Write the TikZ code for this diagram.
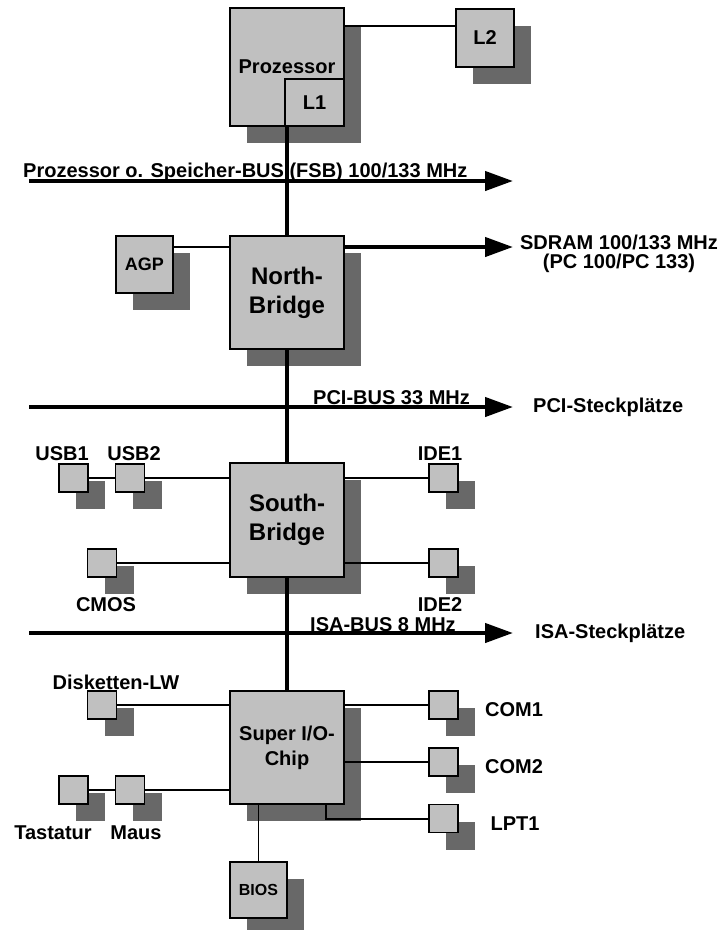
\documentclass[tikz,border=0pt]{standalone}
\usepackage{fontspec}
\setmainfont{Liberation Sans}
\definecolor{chipgray}{HTML}{C0C0C0}
\definecolor{shadegray}{HTML}{686868}
\usetikzlibrary{arrows.meta, positioning, shadows}

\begin{document}
\begin{tikzpicture}[
    x=1pt, y=-1pt,
    every node/.style={font=\fontsize{20}{19}\selectfont\bfseries, align=center},
    plain/.style={draw, fill=chipgray, line width=1.4pt, inner sep=0pt},
    chip/.style={plain, drop shadow={shadow xshift=17pt, shadow yshift=-17pt,
                 fill=shadegray, opacity=1}},
    bigchip/.style={chip, minimum width=114pt, minimum height=113pt,
                    font=\fontsize{24}{29}\selectfont\bfseries},
    port/.style={chip, minimum width=29pt, minimum height=28pt},
    wire/.style={line width=2pt},
    bus/.style={line width=4pt},
    busarrow/.style={line width=4.3pt, -{Triangle[length=28pt, width=19pt]}},
    buslabel/.style={anchor=base west, inner sep=0pt}
  ]
    \useasboundingbox (0,0) rectangle (720,930);

    % processor and caches
    \node[chip, minimum width=114pt, minimum height=118pt] (cpu) at (287,67) {Prozessor};
    \node[plain, minimum width=59pt, minimum height=47pt] (lone) at (314.5,102.5) {L1};
    \node[chip, minimum width=58pt, minimum height=58pt] (ltwo) at (485,38) {L2};
    \draw[wire] ([yshift=12pt]ltwo.west -| cpu.east) -- ([yshift=12pt]ltwo.west);

    % front side bus
    \coordinate (fsbl) at (29,181);
    \coordinate (fsbr) at (513,181);
    \draw[busarrow] (fsbl) -- (fsbr);
    \node[buslabel] (fsb) at (23,177) {Prozessor o. Speicher-BUS (FSB) 100/133 MHz};

    % north bridge
    \node[bigchip] (nb) at (287,292.5) {North-\\Bridge};
    \node[chip, minimum width=57pt, minimum height=57pt,
          font=\fontsize{18}{20}\selectfont\bfseries] (agp) at (144.5,264.5) {AGP};
    \coordinate (sdram) at (513,247);
    \draw[wire] (sdram -| agp.east) -- (sdram -| nb.west);
    \draw[busarrow] (sdram -| nb.east) -- (sdram);
    \node (sdramtxt) at (619,254) {SDRAM 100/133 MHz\\(PC 100/PC 133)};

    % PCI bus
    \coordinate (pcil) at (29,407);
    \coordinate (pcir) at (513,407);
    \draw[busarrow] (pcil) -- (pcir);
    \node[buslabel] (pci) at (313,404) {PCI-BUS 33 MHz};
    \node[right=20pt of pcir, inner sep=0pt] (pcislot) {PCI-Steckplätze};

    % south bridge
    \node[bigchip, minimum height=114pt] (sb) at (287,520) {South-\\Bridge};
    \node[port] (usba) at (73.5,478) {};
    \node[port] (usbb) at (130,478) {};
    \node[port] (idea) at (443.5,478) {};
    \node[port] (ideb) at (443.5,563) {};
    \node[port] (cmos) at (102,563) {};
    \draw[wire] (usba.east) -- (usbb.west);
    \draw[wire] (usbb.east) -- (usbb.east -| sb.west);
    \draw[wire] (idea.west -| sb.east) -- (idea.west);
    \draw[wire] (ideb.west -| sb.east) -- (ideb.west);
    \draw[wire] (cmos.east) -- (cmos.east -| sb.west);
    \node (usbatxt) at (62,454) {USB1};
    \node (usbbtxt) at (134,454) {USB2};
    \node (ideatxt) at (440,454) {IDE1};
    \node (idebtxt) at (440,605) {IDE2};
    \node (cmostxt) at (106,605) {CMOS};

    % ISA bus
    \coordinate (isal) at (29,633);
    \coordinate (isar) at (513,633);
    \draw[busarrow] (isal) -- (isar);
    \node[buslabel] (isa) at (310,631) {ISA-BUS 8 MHz};
    \node[right=22pt of isar, inner sep=0pt] (isaslot) {ISA-Steckplätze};

    % super I/O
    \node[bigchip, font=\fontsize{20}{25}\selectfont\bfseries] (sio) at (287,747.5) {Super I/O-\\Chip};
    \node[port] (fdd) at (102,705) {};
    \node[port] (kbd) at (73.5,790) {};
    \node[port] (mouse) at (130,790) {};
    \node[port] (coma) at (443.5,705) {};
    \node[port] (comb) at (443.5,762) {};
    \node[port] (lpt) at (443.5,818.5) {};
    \node[chip, minimum width=57pt, minimum height=56pt,
          font=\fontsize{16}{18}\selectfont\bfseries] (bios) at (258.5,890) {BIOS};
    \draw[wire] (fdd.east) -- (fdd.east -| sio.west);
    \draw[wire] (kbd.east) -- (mouse.west);
    \draw[wire] (mouse.east) -- (mouse.east -| sio.west);
    \draw[wire] (coma.west -| sio.east) -- (coma.west);
    \draw[wire] (comb.west -| sio.east) -- (comb.west);
    \draw[wire] ([xshift=39pt]sio.south) |- (lpt.west);
    \draw[wire, line width=1.5pt] (bios.north |- sio.south) -- (bios.north);
    \node (fddtxt) at (116,682) {Disketten-LW};
    \node (kbdtxt) at (53,833) {Tastatur};
    \node (mousetxt) at (136,833) {Maus};
    \node (comatxt) at (514,710) {COM1};
    \node (combtxt) at (514,767) {COM2};
    \node (lpttxt) at (515,824) {LPT1};

    % system bus through the chips
    \draw[bus] (nb.north |- lone.south) -- (nb.north);
    \draw[bus] (nb.south) -- (sb.north);
    \draw[bus] (sb.south) -- (sio.north);
  \end{tikzpicture}
\end{document}
